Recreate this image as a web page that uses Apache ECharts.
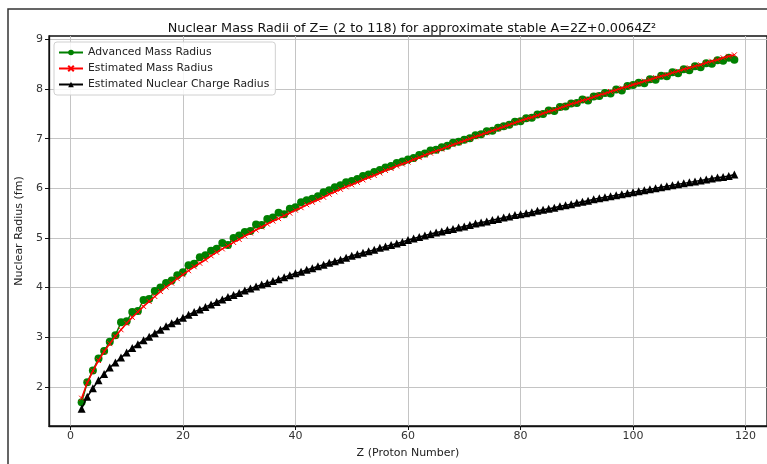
<!DOCTYPE html>
<html>
<head>
<meta charset="utf-8">
<script src="https://cdn.jsdelivr.net/npm/echarts@6/dist/echarts.min.js"></script>
<style>
  html, body { margin: 0; padding: 0; background: #fff; }
  #chart { width: 767px; height: 464px; }
</style>
</head>
<body>
<div id="chart"></div>
<script>
// proton number Z
var protonZ = [2,3,4,5,6,7,8,9,10,11,12,13,14,15,16,17,18,19,20,
  21,22,23,24,25,26,27,28,29,30,31,32,33,34,35,36,37,38,39,40,
  41,42,43,44,45,46,47,48,49,50,51,52,53,54,55,56,57,58,59,60,
  61,62,63,64,65,66,67,68,69,70,71,72,73,74,75,76,77,78,79,80,
  81,82,83,84,85,86,87,88,89,90,91,92,93,94,95,96,97,98,99,100,
  101,102,103,104,105,106,107,108,109,110,111,112,113,114,115,116,117,118];

// Advanced Mass Radius (green)
var advancedMass = [1.69,2.09,2.33,2.57,2.72,2.91,3.04,3.30,3.32,3.51,3.53,3.75,3.77,3.93,4.00,4.09,4.14,4.25,4.31,
  4.45,4.48,4.61,4.65,4.74,4.78,4.90,4.86,5.00,5.05,5.12,5.14,5.27,5.26,5.38,5.41,5.51,5.48,5.59,5.62,
  5.72,5.76,5.79,5.84,5.92,5.96,6.02,6.06,6.12,6.15,6.19,6.25,6.28,6.33,6.37,6.42,6.45,6.51,6.54,6.58,
  6.61,6.67,6.70,6.76,6.78,6.83,6.86,6.92,6.94,6.98,7.01,7.07,7.09,7.15,7.16,7.22,7.25,7.28,7.34,7.35,
  7.41,7.42,7.49,7.50,7.57,7.56,7.64,7.65,7.71,7.72,7.79,7.77,7.85,7.86,7.92,7.91,7.99,7.97,8.06,8.08,
  8.13,8.12,8.20,8.19,8.27,8.26,8.34,8.32,8.40,8.38,8.46,8.44,8.52,8.51,8.58,8.57,8.63,8.59];

// Estimated Mass Radius (red)
var estimatedMass = [1.77,2.08,2.32,2.53,2.71,2.87,3.02,3.15,3.28,3.40,3.51,3.62,3.72,3.82,3.92,4.01,4.09,4.18,4.26,
  4.34,4.42,4.49,4.56,4.64,4.71,4.78,4.84,4.91,4.97,5.04,5.10,5.16,5.22,5.28,5.34,5.39,5.45,5.50,5.56,
  5.61,5.67,5.72,5.77,5.82,5.88,5.93,5.98,6.03,6.07,6.12,6.17,6.22,6.26,6.31,6.36,6.40,6.45,6.49,6.53,
  6.58,6.62,6.67,6.71,6.75,6.79,6.84,6.88,6.92,6.96,7.00,7.04,7.08,7.12,7.16,7.20,7.24,7.28,7.32,7.36,
  7.40,7.43,7.47,7.51,7.55,7.58,7.62,7.66,7.70,7.73,7.77,7.80,7.84,7.88,7.91,7.95,7.98,8.02,8.05,8.09,
  8.12,8.16,8.19,8.23,8.26,8.29,8.33,8.36,8.40,8.43,8.46,8.49,8.53,8.56,8.59,8.63,8.66,8.69];

// Estimated Nuclear Charge Radius (black)
var chargeRadius = [1.56,1.80,1.97,2.13,2.26,2.39,2.49,2.59,2.69,2.78,2.86,2.94,3.01,3.08,3.15,3.22,3.28,3.33,3.39,
  3.45,3.51,3.56,3.61,3.66,3.71,3.76,3.81,3.85,3.89,3.94,3.98,4.02,4.06,4.09,4.13,4.17,4.21,4.25,4.29,
  4.32,4.36,4.39,4.43,4.46,4.50,4.53,4.56,4.60,4.64,4.67,4.70,4.73,4.76,4.80,4.83,4.86,4.89,4.92,4.96,
  4.99,5.02,5.05,5.08,5.11,5.13,5.16,5.18,5.21,5.23,5.26,5.29,5.31,5.33,5.36,5.38,5.41,5.43,5.46,5.48,
  5.50,5.52,5.55,5.57,5.59,5.61,5.64,5.66,5.68,5.71,5.73,5.75,5.78,5.80,5.82,5.84,5.86,5.88,5.90,5.92,
  5.94,5.96,5.98,6.00,6.02,6.04,6.06,6.08,6.10,6.12,6.14,6.16,6.18,6.20,6.22,6.23,6.25,6.28];

var xTicks = [0, 20, 40, 60, 80, 100, 120];
var yTicks = [2, 3, 4, 5, 6, 7, 8, 9];

function pairs(ys) {
  var out = [];
  for (var i = 0; i < protonZ.length; i++) {
    out.push([protonZ[i], ys[i]]);
  }
  return out;
}

var myChart = echarts.init(document.getElementById('chart'));
var font = 'DejaVu Sans';

var option = {
  animation: false,
  backgroundColor: '#fff',
  title: {
    text: 'Nuclear Mass Radii of Z= (2 to 118) for approximate stable A=2Z+0.0064Z²',
    left: 407,
    top: 17,
    textAlign: 'center',
    textStyle: { fontFamily: font, fontSize: 12.8, fontWeight: 'normal', color: '#111' }
  },
  graphic: [{
    type: 'rect',
    silent: true,
    shape: { x: 8, y: 9, width: 800, height: 500 },
    style: { fill: 'none', stroke: '#333', lineWidth: 1.5 }
  }],
  legend: {
    orient: 'vertical',
    left: 54,
    top: 42,
    itemWidth: 24,
    itemHeight: 7,
    itemGap: 5,
    padding: [5, 6, 5, 4],
    backgroundColor: 'rgba(255,255,255,0.85)',
    borderColor: '#d0d0d0',
    borderWidth: 1,
    borderRadius: 3,
    textStyle: { fontFamily: font, fontSize: 10.8, color: '#222' },
    data: ['Advanced Mass Radius', 'Estimated Mass Radius', 'Estimated Nuclear Charge Radius']
  },
  grid: {
    left: 49,
    right: -2,
    top: 36,
    bottom: 36,
    show: true,
    borderColor: '#111',
    borderWidth: 1.3,
    backgroundColor: 'transparent'
  },
  xAxis: {
    type: 'value',
    min: -3.8,
    max: 123.8,
    name: 'Z (Proton Number)',
    nameLocation: 'middle',
    nameGap: 22,
    nameTextStyle: { fontFamily: font, fontSize: 11, color: '#222' },
    axisLine: { show: true, onZero: false, lineStyle: { color: '#111', width: 1.3 } },
    axisTick: { show: true, customValues: xTicks, length: 4, lineStyle: { color: '#111' } },
    axisLabel: { customValues: xTicks, fontFamily: font, fontSize: 11, color: '#333', margin: 5 },
    splitLine: { show: true, lineStyle: { color: '#c4c4c4', width: 1 } }
  },
  yAxis: {
    type: 'value',
    min: 1.21,
    max: 9.07,
    name: 'Nuclear Radius (fm)',
    nameLocation: 'middle',
    nameGap: 20,
    nameRotate: 90,
    nameTextStyle: { fontFamily: font, fontSize: 11, color: '#222' },
    axisLine: { show: true, onZero: false, lineStyle: { color: '#111', width: 1.3 } },
    axisTick: { show: true, customValues: yTicks, length: 4, lineStyle: { color: '#111' } },
    axisLabel: { customValues: yTicks, fontFamily: font, fontSize: 11, color: '#333', margin: 6 },
    splitLine: { show: true, lineStyle: { color: '#c4c4c4', width: 1 } }
  },
  series: [
    {
      name: 'Advanced Mass Radius',
      type: 'line',
      data: pairs(advancedMass),
      symbol: 'circle',
      symbolSize: 8,
      lineStyle: { color: '#008000', width: 1.5 },
      itemStyle: { color: '#008000' },
      z: 2
    },
    {
      name: 'Estimated Mass Radius',
      type: 'line',
      data: pairs(estimatedMass),
      symbol: 'path://M0,0L10,10M10,0L0,10',
      symbolSize: 5,
      lineStyle: { color: '#ff0000', width: 1.6 },
      itemStyle: { color: '#ff0000', borderColor: '#ff0000', borderWidth: 1 },
      z: 3
    },
    {
      name: 'Estimated Nuclear Charge Radius',
      type: 'line',
      data: pairs(chargeRadius),
      symbol: 'triangle',
      symbolSize: 8,
      lineStyle: { color: '#000', width: 1.5 },
      itemStyle: { color: '#000' },
      z: 4
    }
  ]
};

myChart.setOption(option);
</script>
</body>
</html>
